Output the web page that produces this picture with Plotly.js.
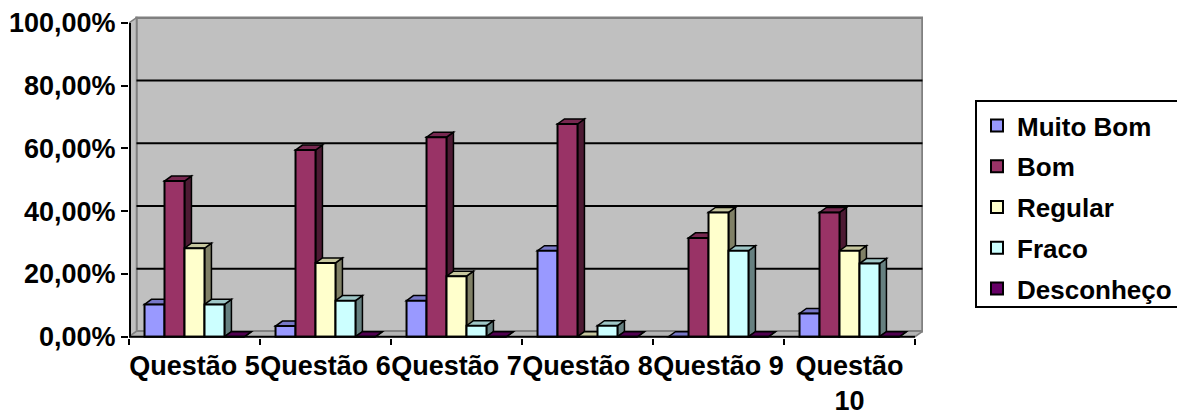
<!DOCTYPE html>
<html>
<head>
<meta charset="utf-8">
<script src="https://cdn.plot.ly/plotly-3.0.1.min.js"></script>
<style>html,body{margin:0;padding:0;background:#fff;}#chart{width:1177px;height:415px;}</style>
</head>
<body>
<div id="chart"></div>
<script>
// ---- data ----
const categories = ['Questão 5', 'Questão 6', 'Questão 7', 'Questão 8', 'Questão 9', 'Questão<br>10'];
const seriesNames = ['Muito Bom', 'Bom', 'Regular', 'Fraco', 'Desconheço'];
const muitoBom   = [10.3, 3.4, 11.5, 27.4, 0, 7.4];
const bom        = [49.6, 59.5, 63.6, 67.8, 31.5, 39.6];
const regular    = [28.2, 23.5, 19.3, 0, 39.6, 27.4];
const fraco      = [10.3, 11.5, 3.5, 3.5, 27.4, 23.3];
const desconheco = [0, 0, 0, 0, 0, 0];
const yTickVals  = [0, 20, 40, 60, 80, 100];
const yTickText  = ['0,00%', '20,00%', '40,00%', '60,00%', '80,00%', '100,00%'];

// ---- styles ----
const frontColors = ['#9999FF', '#993366', '#FFFFCC', '#CCFFFF', '#660066'];
function shade(hex, f) {
  const n = parseInt(hex.slice(1), 16);
  const r = Math.round(((n >> 16) & 255) * f), g = Math.round(((n >> 8) & 255) * f), b = Math.round((n & 255) * f);
  return 'rgb(' + r + ',' + g + ',' + b + ')';
}
const allSeries = [muitoBom, bom, regular, fraco, desconheco];
const bargap = 0.237;
const nS = allSeries.length;
const bw = (1 - bargap) / nS;
const dx = 0.053, dy = 1.6;     // bar depth (axis units)
const dxw = 0.057, dyw = 1.7;   // wall depth
const nC = categories.length;
const x0 = -0.5, x1 = nC - 0.5;

const shapes = [];
// back wall
shapes.push({type: 'rect', layer: 'below', xref: 'x', yref: 'y', x0: x0 + dxw, x1: x1 + dxw, y0: dyw, y1: 100 + dyw,
  fillcolor: '#C0C0C0', line: {color: '#808080', width: 2.5}});
// left wall
shapes.push({type: 'path', layer: 'below', xref: 'x', yref: 'y',
  path: `M${x0},0 L${x0 + dxw},${dyw} L${x0 + dxw},${100 + dyw} L${x0},100 Z`,
  fillcolor: '#C0C0C0', line: {color: '#808080', width: 1.5}});
// floor
shapes.push({type: 'path', layer: 'below', xref: 'x', yref: 'y',
  path: `M${x0},0 L${x1},0 L${x1 + dxw},${dyw} L${x0 + dxw},${dyw} Z`,
  fillcolor: '#B4B4B4', line: {color: '#808080', width: 1.5}});
// gridlines on back wall
yTickVals.slice(1, -1).forEach(v => {
  shapes.push({type: 'line', layer: 'below', xref: 'x', yref: 'y', x0: x0 + dxw, x1: x1 + dxw, y0: v + dyw, y1: v + dyw,
    line: {color: '#000000', width: 2}});
});
// 3D top and side faces of each bar
for (let c = 0; c < nC; c++) {
  for (let s = 0; s < nS; s++) {
    const v = allSeries[s][c];
    const xl = c - (1 - bargap) / 2 + s * bw;
    const xr = xl + bw;
    shapes.push({type: 'path', layer: 'below', xref: 'x', yref: 'y',
      path: `M${xr},0 L${xr + dx},${dy} L${xr + dx},${v + dy} L${xr},${v} Z`,
      fillcolor: shade(frontColors[s], 0.5), line: {color: '#000000', width: 1.5}});
    shapes.push({type: 'path', layer: 'below', xref: 'x', yref: 'y',
      path: `M${xl},${v} L${xr},${v} L${xr + dx},${v + dy} L${xl + dx},${v + dy} Z`,
      fillcolor: shade(frontColors[s], 0.78), line: {color: '#000000', width: 1.5}});
  }
}
// front axis lines (left one sits on the plot edge, so half of it is clipped)
shapes.push({type: 'line', layer: 'above', xref: 'x', yref: 'y', x0: x0, x1: x0, y0: 0, y1: 100, line: {color: '#000', width: 4}});
shapes.push({type: 'line', layer: 'above', xref: 'x', yref: 'y', x0: x0, x1: x1, y0: 0, y1: 0, line: {color: '#000', width: 2}});

const traces = allSeries.map((vals, s) => ({
  type: 'bar', name: seriesNames[s], x: categories, y: vals, legendgroup: 'g' + s,
  marker: {color: frontColors[s], line: {color: '#000000', width: 2}},
  hoverinfo: 'skip'
}));

const legendFont = {family: '"Liberation Sans", Arial, sans-serif', size: 26, color: '#000000', weight: 'bold'};
const tickFont = {family: '"Liberation Sans", Arial, sans-serif', size: 27, color: '#000000', weight: 'bold'};

const layout = {
  width: 1177, height: 415,
  margin: {l: 129, r: 254, t: 16, b: 77, pad: 0},
  paper_bgcolor: '#ffffff', plot_bgcolor: 'rgba(0,0,0,0)',
  barmode: 'group', bargap: bargap, bargroupgap: 0,
  showlegend: true,
  legend: {
    xref: 'container', yref: 'container', x: 975 / 1177, y: 1 - 100 / 415, xanchor: 'left', yanchor: 'top',
    bgcolor: '#ffffff', bordercolor: '#000000', borderwidth: 2,
    font: legendFont, traceorder: 'grouped', tracegroupgap: 4
  },
  xaxis: {
    type: 'category', range: [-0.5, 5.561], tickson: 'boundaries', tickangle: 0,
    ticks: 'outside', ticklen: 6, tickwidth: 2, tickcolor: '#000', ticklabelstandoff: 9,
    showgrid: false, zeroline: false, showline: false, tickfont: tickFont, fixedrange: true
  },
  yaxis: {
    range: [-0.414, 102.23], tickvals: yTickVals, ticktext: yTickText,
    ticks: 'outside', ticklen: 7, tickwidth: 2, tickcolor: '#000',
    showgrid: false, zeroline: false, showline: false, tickfont: tickFont, fixedrange: true
  },
  shapes: shapes
};

Plotly.newPlot('chart', traces, layout, {displayModeBar: false, staticPlot: true});
</script>
</body>
</html>
